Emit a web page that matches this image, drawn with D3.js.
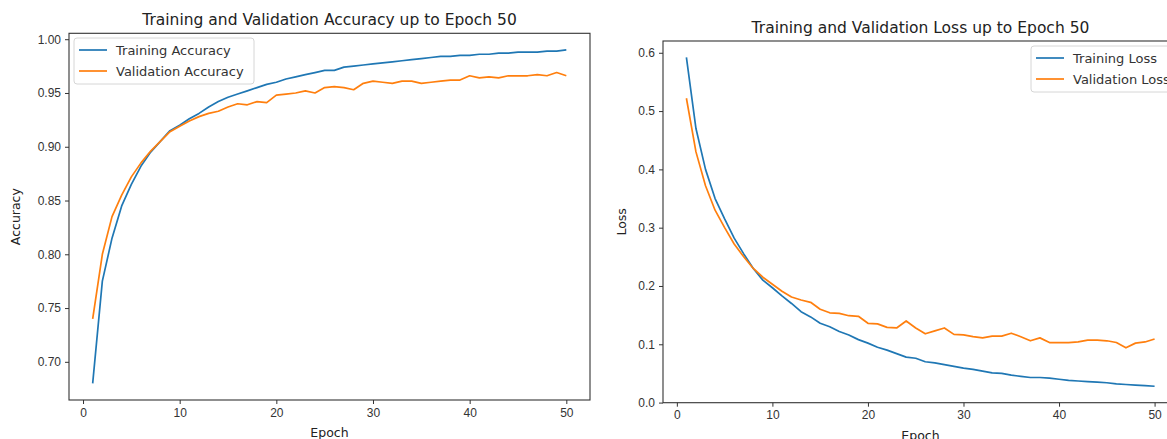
<!DOCTYPE html>
<meta charset="utf-8">
<style>
body { margin: 0; background: #fff; }
svg { display: block; font-family: "DejaVu Sans", sans-serif; }
.tick text { fill: #333; font-size: 12px; }
.tick line { stroke: #333; }
.domain { display: none; }
.spine { fill: none; stroke: #333; stroke-width: 1.1px; }
.title { font-size: 15.5px; fill: #222; text-anchor: middle; }
.label { font-size: 12.5px; fill: #222; text-anchor: middle; }
.legend text { font-size: 13px; fill: #333; }
</style>
<svg width="1167" height="439"></svg>
<script src="https://cdn.jsdelivr.net/npm/d3@7"></script>
<script>

var epochs = d3.range(1, 51);

var trainAcc = [0.680, 0.775, 0.815, 0.845, 0.865, 0.882, 0.895, 0.905, 0.915, 0.920,
  0.926, 0.931, 0.937, 0.942, 0.946, 0.949, 0.952, 0.955, 0.958, 0.960,
  0.963, 0.965, 0.967, 0.969, 0.971, 0.971, 0.974, 0.975, 0.976, 0.977,
  0.978, 0.979, 0.980, 0.981, 0.982, 0.983, 0.984, 0.984, 0.985, 0.985,
  0.986, 0.986, 0.987, 0.987, 0.988, 0.988, 0.988, 0.989, 0.989, 0.990];

var valAcc = [0.740, 0.800, 0.835, 0.855, 0.872, 0.885, 0.896, 0.905, 0.914, 0.919,
  0.924, 0.928, 0.931, 0.933, 0.937, 0.940, 0.939, 0.942, 0.941, 0.948,
  0.949, 0.950, 0.952, 0.950, 0.955, 0.956, 0.955, 0.953, 0.959, 0.961,
  0.960, 0.959, 0.961, 0.961, 0.959, 0.960, 0.961, 0.962, 0.962, 0.966,
  0.964, 0.965, 0.964, 0.966, 0.966, 0.966, 0.967, 0.966, 0.969, 0.966];

var trainLoss = [0.592, 0.470, 0.400, 0.350, 0.315, 0.282, 0.255, 0.230, 0.210, 0.197,
  0.183, 0.170, 0.156, 0.147, 0.136, 0.130, 0.122, 0.116, 0.108, 0.102,
  0.095, 0.090, 0.084, 0.078, 0.076, 0.070, 0.068, 0.065, 0.062, 0.059,
  0.057, 0.054, 0.051, 0.050, 0.047, 0.045, 0.043, 0.043, 0.042, 0.040,
  0.038, 0.037, 0.036, 0.035, 0.034, 0.032, 0.031, 0.030, 0.029, 0.028];

var valLoss = [0.522, 0.430, 0.372, 0.330, 0.300, 0.272, 0.250, 0.230, 0.215, 0.203,
  0.191, 0.181, 0.176, 0.172, 0.160, 0.154, 0.153, 0.149, 0.148, 0.136,
  0.135, 0.129, 0.128, 0.140, 0.128, 0.118, 0.123, 0.128, 0.117, 0.116,
  0.113, 0.111, 0.114, 0.114, 0.119, 0.113, 0.106, 0.111, 0.103, 0.103,
  0.103, 0.104, 0.107, 0.107, 0.106, 0.103, 0.094, 0.102, 0.104, 0.109];

var xTicks = [0, 10, 20, 30, 40, 50];
var accTicks = [0.70, 0.75, 0.80, 0.85, 0.90, 0.95, 1.00];
var lossTicks = [0.0, 0.1, 0.2, 0.3, 0.4, 0.5, 0.6];

var blue = "#1f77b4", orange = "#ff7f0e";
var svg = d3.select("svg");

// matplotlib style 5% margins
function padded(lo, hi) {
  var m = (hi - lo) * 0.05;
  return [lo - m, hi + m];
}

function panel(o) {
  var all = o.series[0].values.concat(o.series[1].values);
  var x = d3.scaleLinear().domain(padded(1, 50)).range([o.left, o.right]);
  var y = d3.scaleLinear().domain(padded(d3.min(all), d3.max(all))).range([o.bottom, o.top]);

  var g = svg.append("g");

  g.append("g")
    .attr("transform", "translate(0," + o.bottom + ")")
    .call(d3.axisBottom(x).tickValues(xTicks).tickSize(4).tickPadding(4).tickFormat(d3.format("d")));

  g.append("g")
    .attr("transform", "translate(" + o.left + ",0)")
    .call(d3.axisLeft(y).tickValues(o.yTicks).tickSize(4).tickPadding(4).tickFormat(d3.format(o.fmt)));

  var line = d3.line()
    .x(function(d, i) { return x(epochs[i]); })
    .y(function(d) { return y(d); });

  o.series.forEach(function(s) {
    g.append("path")
      .attr("d", line(s.values))
      .attr("fill", "none")
      .attr("stroke", s.color)
      .attr("stroke-width", 1.7)
      .attr("stroke-linejoin", "round");
  });

  g.append("rect").attr("class", "spine")
    .attr("x", o.left).attr("y", o.top)
    .attr("width", o.right - o.left).attr("height", o.bottom - o.top);

  g.append("text").attr("class", "title")
    .attr("x", (o.left + o.right) / 2).attr("y", o.top - 8)
    .text(o.title);

  g.append("text").attr("class", "label")
    .attr("x", (o.left + o.right) / 2).attr("y", o.bottom + 37)
    .text("Epoch");

  g.append("text").attr("class", "label")
    .attr("transform", "translate(" + o.ylabelX + "," + (o.top + o.bottom) / 2 + ") rotate(-90)")
    .text(o.ylabel);

  // legend
  var lg = g.append("g").attr("class", "legend")
    .attr("transform", "translate(" + o.legend[0] + "," + o.legend[1] + ")");
  lg.append("rect")
    .attr("width", o.legendW).attr("height", 46).attr("rx", 3)
    .attr("fill", "#fff").attr("fill-opacity", 0.8)
    .attr("stroke", "#d6d6d6");
  o.series.forEach(function(s, i) {
    var ly = 12 + i * 21;
    lg.append("line")
      .attr("x1", 5).attr("x2", 33).attr("y1", ly).attr("y2", ly)
      .attr("stroke", s.color).attr("stroke-width", 1.7);
    lg.append("text").attr("x", 42).attr("y", ly + 4.5).text(s.name);
  });
}

panel({
  left: 69, right: 590, top: 33.3, bottom: 400,
  title: "Training and Validation Accuracy up to Epoch 50",
  ylabel: "Accuracy", ylabelX: 20,
  yTicks: accTicks, fmt: ".2f",
  legend: [74, 38], legendW: 180,
  series: [
    { name: "Training Accuracy", values: trainAcc, color: blue },
    { name: "Validation Accuracy", values: valAcc, color: orange }
  ]
});

panel({
  left: 663, right: 1178, top: 41, bottom: 402.7,
  title: "Training and Validation Loss up to Epoch 50",
  ylabel: "Loss", ylabelX: 626,
  yTicks: lossTicks, fmt: ".1f",
  legend: [1031, 46], legendW: 142,
  series: [
    { name: "Training Loss", values: trainLoss, color: blue },
    { name: "Validation Loss", values: valLoss, color: orange }
  ]
});

</script>
